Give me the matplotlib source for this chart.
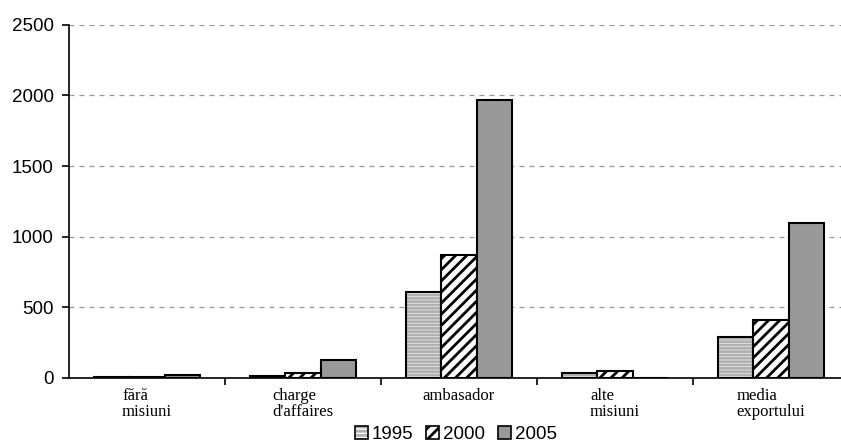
import numpy as np
import matplotlib.pyplot as plt
from matplotlib.colors import to_rgba
from matplotlib.patches import Patch

categories = ["fără\nmisiuni", "charge\nd'affaires", "ambasador", "alte\nmisiuni", "media\nexportului"]
years = ["1995", "2000", "2005"]
v1995 = [8, 12, 610, 38, 290]
v2000 = [8, 35, 870, 48, 410]
v2005 = [18, 130, 1970, 0, 1100]

plt.rcParams['hatch.linewidth'] = 2.0

fig = plt.figure(figsize=(8.41, 4.43), dpi=100)
ax = fig.add_axes([0.082, 0.147, 0.9275, 0.797])

x = np.arange(len(categories))
w = 0.225
styles = [
    dict(facecolor='white', hatch='-----', hc='#b0b0b0'),
    dict(facecolor='white', hatch='///', hc='black'),
    dict(facecolor='#999999', hatch=None, hc='black'),
]
series = [v1995, v2000, v2005]
handles = []
for i, (vals, st) in enumerate(zip(series, styles)):
    bars = ax.bar(x + (i - 1) * w, vals, w, facecolor=st['facecolor'],
                  edgecolor='black', linewidth=1.5, zorder=3)
    for b in bars:
        if st['hatch']:
            b.set_hatch(st['hatch'])
            b._hatch_color = to_rgba(st['hc'])
    h = Patch(facecolor=st['facecolor'], edgecolor='black',
              hatch=st['hatch'] if i != 0 else '----', linewidth=1.2)
    h._hatch_color = to_rgba(st['hc'])
    handles.append(h)

ax.set_xlim(-0.5, 4.5)
ax.set_ylim(0, 2500)
ax.set_yticks(range(0, 2501, 500))
ax.yaxis.grid(True, linestyle=(0, (4, 4)), color='#999999', linewidth=0.9, zorder=0)

for s in ['top', 'right']:
    ax.spines[s].set_visible(False)
ax.spines['left'].set_linewidth(1.2)
ax.spines['bottom'].set_linewidth(1.2)

ax.set_xticks(x)
ax.set_xticklabels(categories, family='Liberation Serif', fontsize=12,
                   multialignment='left', linespacing=1.05)
ax.tick_params(axis='x', length=0, pad=7)
ax.set_xticks(np.arange(0.5, 4.5, 1), minor=True)
ax.tick_params(axis='x', which='minor', length=5, width=1.2, direction='out')
ax.tick_params(axis='y', length=5, width=1.2, labelsize=13.5, pad=6)
for t in ax.get_yticklabels():
    t.set_family('Liberation Sans')

leg = fig.legend(handles, years, loc='lower center', bbox_to_anchor=(0.542, -0.038),
                 ncol=3, frameon=False, handlelength=0.7, handleheight=0.7,
                 handletextpad=0.2, columnspacing=0.7,
                 prop={'family': 'Liberation Sans', 'size': 13.5})
for h, st in zip(leg.legend_handles, styles):
    h._hatch_color = to_rgba(st['hc'])

fig.savefig('out.png', dpi=100)
